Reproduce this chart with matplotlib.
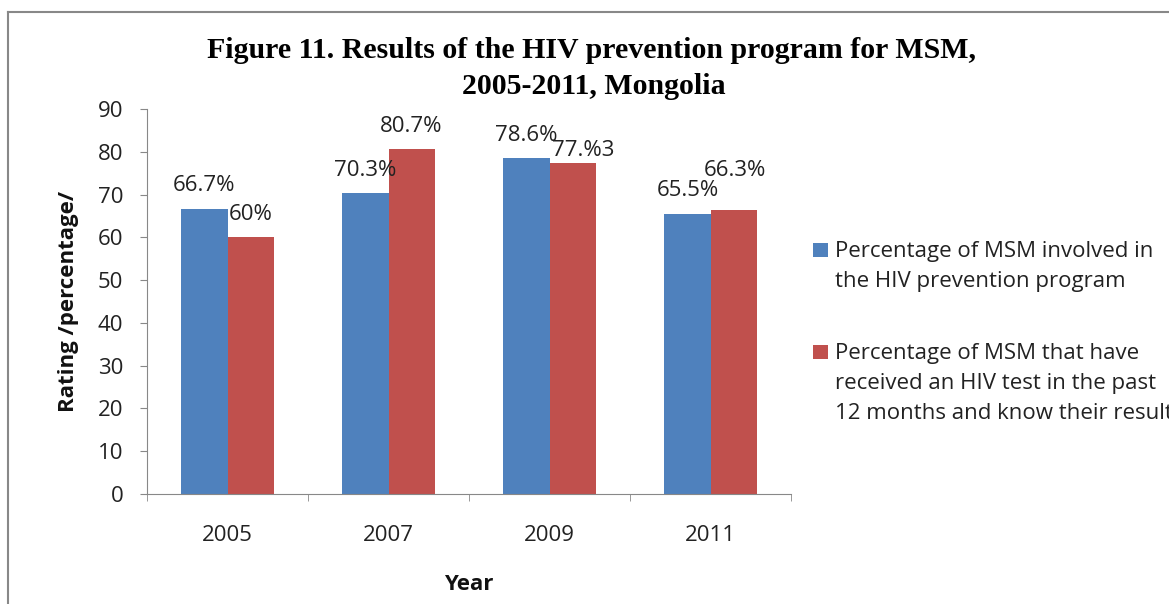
import matplotlib
matplotlib.use("Agg")
import matplotlib.pyplot as plt
from matplotlib.patches import Rectangle
from matplotlib.lines import Line2D
import numpy as np

# Chart data
years = ["2005", "2007", "2009", "2011"]
involved = [66.7, 70.3, 78.6, 65.5]
tested = [60, 80.7, 77.3, 66.3]
involved_labels = ["66.7%", "70.3%", "78.6%", "65.5%"]
tested_labels = ["60%", "80.7%", "77.%3", "66.3%"]
legend_labels = ["Percentage of MSM involved in\nthe HIV prevention program",
                 "Percentage of MSM that have\nreceived an HIV test in the past\n12 months and know their results"]

# label nudges in pixels (some labels were moved by hand in the original)
involved_dxy = [(0, 25), (0, 25), (0, 24), (0, 25)]
tested_dxy = [(0, 25), (0, 24), (11, 15), (1, 42)]

blue = "#4F81BD"
red = "#C0504D"
grey = "#888888"
sans = ["Open Sans", "DejaVu Sans"]
fs = 16

fig = plt.figure(figsize=(11.69, 6.04), dpi=100)
ax = fig.add_axes([147 / 1169, 1 - 494 / 604, 644 / 1169, 385 / 604])

x = np.arange(len(years))
w = 0.286
ax.bar(x - w / 2, involved, w, color=blue)
ax.bar(x + w / 2, tested, w, color=red)

for xs, vals, labs, dxy in [(x - w / 2, involved, involved_labels, involved_dxy),
                            (x + w / 2, tested, tested_labels, tested_dxy)]:
    for xi, v, s, (dx, dy) in zip(xs, vals, labs, dxy):
        ax.annotate(s, (xi, v), xytext=(dx, dy - 2), textcoords="offset pixels",
                    ha="center", va="center", fontsize=fs, family=sans, color="#222222")

ax.set_xlim(-0.5, 3.5)
ax.set_ylim(0, 90)
ax.set_yticks(range(0, 91, 10))
ax.set_yticklabels([str(t) for t in range(0, 91, 10)], family=sans, fontsize=fs, color="#222222")
ax.set_xticks(x)
ax.set_xticklabels(years, family=sans, fontsize=fs, color="#222222")
ax.tick_params(axis="x", length=0, pad=22)
ax.tick_params(axis="y", length=5, color=grey, pad=12)
# tick marks between the year groups
ax.set_xticks(np.arange(-0.5, 4.0, 1), minor=True)
ax.tick_params(axis="x", which="minor", length=5, color=grey)

for sp in ["top", "right"]:
    ax.spines[sp].set_visible(False)
for sp in ["left", "bottom"]:
    ax.spines[sp].set_color(grey)

ax.set_ylabel("Rating /percentage/", family=sans, fontsize=fs, fontweight="bold", color="#111111")
ax.yaxis.set_label_coords(-0.105, 0.5)
ax.set_xlabel("Year", family=sans, fontsize=fs, fontweight="bold", color="#111111")
ax.xaxis.set_label_coords(0.5, -0.207)

fig.text(0.506, 1 - 50 / 604, "Figure 11. Results of the HIV prevention program for MSM,",
         ha="center", va="center", family="Liberation Serif", fontweight="bold", fontsize=21.5)
fig.text(0.508, 1 - 87 / 604, "2005-2011, Mongolia",
         ha="center", va="center", family="Liberation Serif", fontweight="bold", fontsize=21.5)

# legend, marker next to the first line of each entry
leg_y = [1 - 250 / 604, 1 - 352 / 604]
for c, lab, yy in zip([blue, red], legend_labels, leg_y):
    fig.add_artist(Rectangle((813 / 1169, yy - 7 / 604), 15 / 1169, 14 / 604,
                             transform=fig.transFigure, facecolor=c, edgecolor="none"))
    fig.text(835 / 1169, yy + 9 / 604, lab, ha="left", va="top", family=sans, fontsize=fs,
             color="#222222", linespacing=1.55)

# chart border (top and left edges visible)
fig.add_artist(Line2D([8 / 1169, 1.0], [1 - 12 / 604, 1 - 12 / 604], color=grey, lw=1.5))
fig.add_artist(Line2D([8 / 1169, 8 / 1169], [0, 1 - 12 / 604], color=grey, lw=1.5))

fig.savefig("out.png", dpi=100)
